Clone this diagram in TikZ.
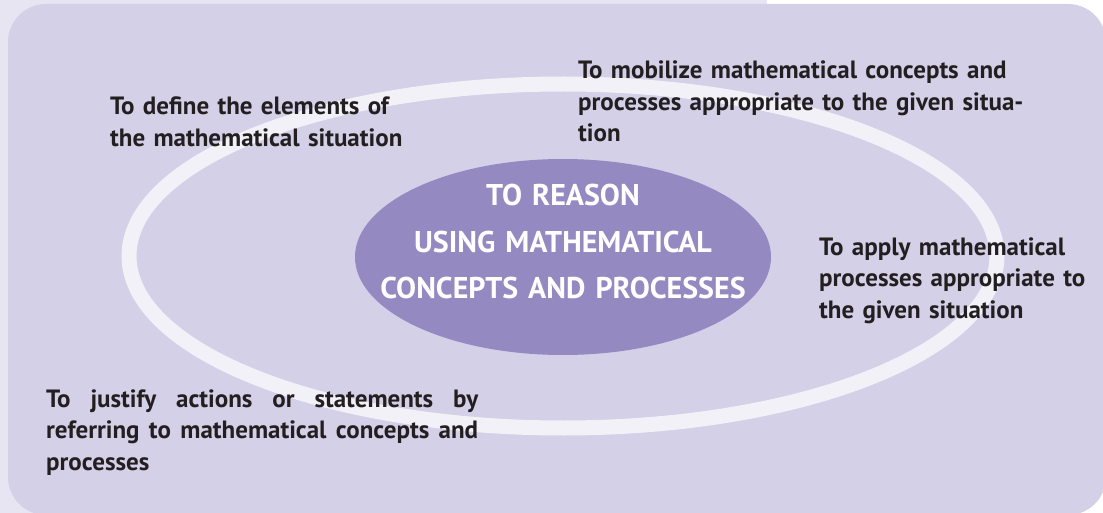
\documentclass[tikz,border=0pt]{standalone}
\usepackage{fontspec}
\setmainfont{PT Sans}
\usepackage{xcolor}
\usetikzlibrary{shapes.geometric,positioning}

\definecolor{pagebg}{HTML}{E7E5F2}
\definecolor{panelbg}{HTML}{D4D0E8}
\definecolor{ringcol}{HTML}{F2F1F8}
\definecolor{hubcol}{HTML}{9589C1}
\definecolor{inkcol}{HTML}{231F20}

\tikzset{
  aim/.style={anchor=base west, inner sep=0pt, align=left, text=inkcol,
    font=\fontsize{25}{31.5}\selectfont\bfseries},
  hub/.style={ellipse, fill=hubcol, minimum width=416pt, minimum height=196pt, inner sep=0pt},
  hubtext/.style={anchor=base, inner sep=0pt, align=center, text=white, text width=400pt,
    font=\fontsize{30}{46.5}\selectfont\bfseries}
}

\begin{document}
\begin{tikzpicture}[x=1pt, y=-1pt]
    \useasboundingbox (0,0) rectangle (1103,513);

    % Backdrop and panel
    \fill[pagebg] (0,0) rectangle (767,513);
    \fill[panelbg, rounded corners=38pt] (8,4) rectangle (1106,515);

    % Ring
    \draw[ringcol, line width=15pt] (563,256) ellipse [x radius=434pt, y radius=172pt];

    % Central goal
    \node[hub] (reason) at (563,257) {};
    \node[hubtext] (reasonlbl) at (563,206) {TO REASON\\USING MATHEMATICAL\\CONCEPTS AND PROCESSES};

    % Components
    \node[aim, text width=340pt] (define) at (110,115) {To define the elements of\\the mathematical situation};
    \node[aim, text width=460pt] (mobilize) at (578,79) {To mobilize mathematical concepts and\\processes appropriate to the given situa-\\tion};
    \node[aim, text width=284pt] (apply) at (819,255) {To apply mathematical\\processes appropriate to\\the given situation};
    \node[aim, text width=432pt] (justify) at (46,407) {\leavevmode\hbox to 432pt{To\hfill justify\hfill actions\hfill or\hfill statements\hfill by}\\\leavevmode\hbox to 432pt{referring\hfil\ to\hfil\ mathematical\hfil\ concepts\hfil\ and}\\processes};
\end{tikzpicture}
\end{document}
